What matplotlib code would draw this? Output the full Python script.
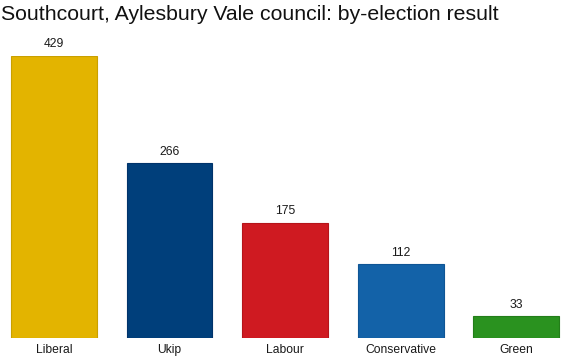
import matplotlib
matplotlib.use("Agg")
import matplotlib.pyplot as plt

parties = ["Liberal", "Ukip", "Labour", "Conservative", "Green"]
votes = [429, 266, 175, 112, 33]
colors = ["#E3B400", "#003F7B", "#CF1A21", "#1362A8", "#2A921F"]
edges = ["#C9A000", "#00336A", "#B5141A", "#0F5595", "#237E19"]

title = "Southcourt, Aylesbury Vale council: by-election result"

plt.rcParams['font.family'] = ['Liberation Sans', 'DejaVu Sans']

fig = plt.figure(figsize=(5.64, 3.57), dpi=100)
ax = fig.add_axes([0, 19/357, 1, 282/357])

x = list(range(len(parties)))
bw = 86/115.6
ax.bar(x, votes, width=bw, color=colors, edgecolor=edges, linewidth=0.8)
for xi, v in zip(x, votes):
    ax.annotate(str(v), (xi, v), xytext=(0, 4), textcoords="offset points",
                ha="center", va="bottom", fontsize=8.7, color="#1a1a1a")

ax.set_xlim(-0.467, 4.415)
ax.set_ylim(0, 429)
ax.set_xticks(x)
ax.set_xticklabels(parties, fontsize=8.7, color="#1a1a1a")
ax.tick_params(axis='x', length=0, pad=4)
ax.set_yticks([])
for s in ax.spines.values():
    s.set_visible(False)

fig.text(1/564, 1 - 14/357, title, fontsize=15.3, va="center", ha="left", color="#111111")

fig.savefig("out.png", dpi=100)
